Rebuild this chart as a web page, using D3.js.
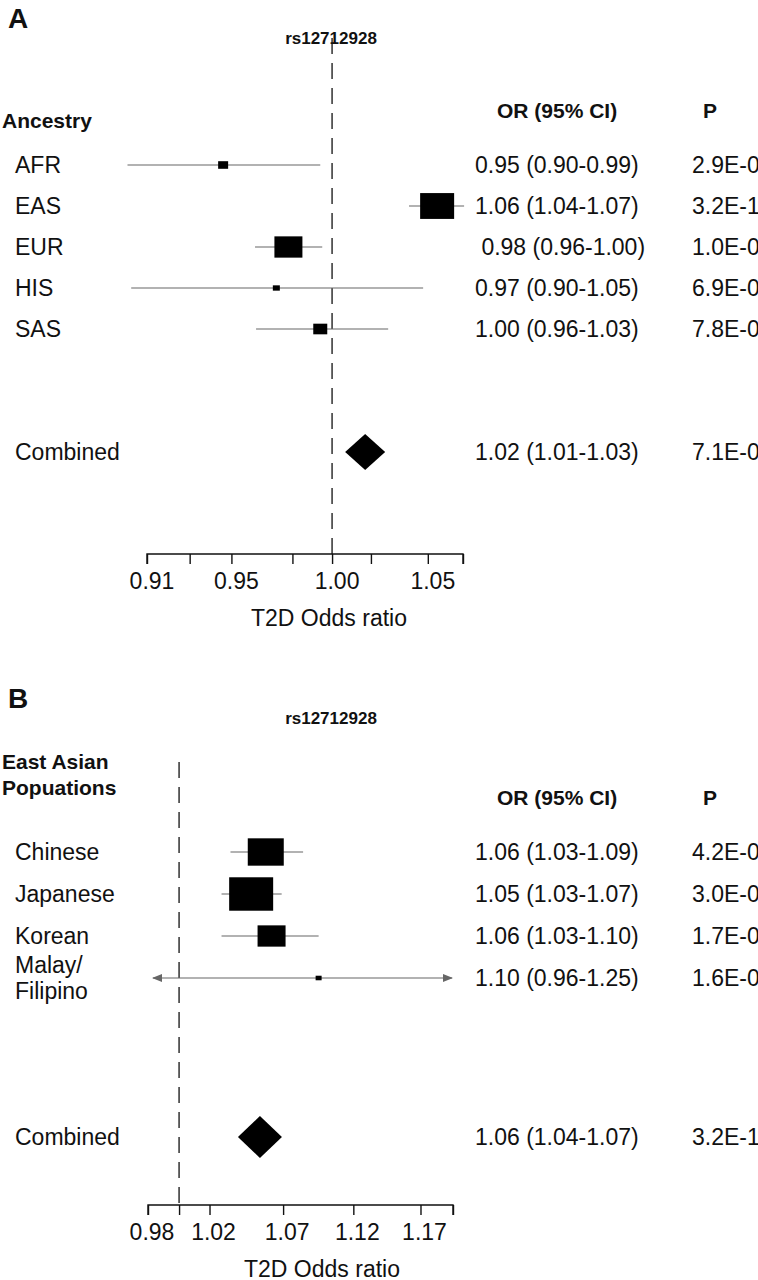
<!DOCTYPE html>
<html><head><meta charset="utf-8">
<script src="https://cdn.jsdelivr.net/npm/d3@7"></script>
<style>
body{margin:0;background:#fff;}
text{font-family:"Liberation Sans",Arial,sans-serif;fill:#111;}
</style></head>
<body><div id="chart"></div>
<script>
// Panel A data: ancestry groups
var ancLabels = ["AFR", "EAS", "EUR", "HIS", "SAS"];
var ancEst = [0.946, 1.055, 0.978, 0.972, 0.994];
var ancLo = [0.901, 1.040, 0.9615, 0.9027, 0.962];
var ancHi = [0.994, 1.0696, 0.995, 1.0475, 1.029];
var ancWeight = [10, 34, 28, 7, 14];
var ancText = ["0.95 (0.90-0.99)", "1.06 (1.04-1.07)", " 0.98 (0.96-1.00)", "0.97 (0.90-1.05)", "1.00 (0.96-1.03)"];
var ancP = ["2.9E-02", "3.2E-14", "1.0E-02", "6.9E-02", "7.8E-01"];
var ancComb = {est: 1.017, text: "1.02 (1.01-1.03)", p: "7.1E-04"};
var ticksA = [0.91, 0.93, 0.95, 0.98, 1.00, 1.02, 1.05, 1.069];
var labelsA = [0.91, 0.95, 1.00, 1.05];

// Panel B data: East Asian populations
var easLabels = [["Chinese"], ["Japanese"], ["Korean"], ["Malay/", "Filipino"]];
var easEst = [1.058, 1.048, 1.062, 1.095];
var easLo = [1.034, 1.028, 1.028, 0.96];
var easHi = [1.084, 1.069, 1.095, 1.25];
var easWeight = [36, 44, 28, 6];
var easText = ["1.06 (1.03-1.09)", "1.05 (1.03-1.07)", "1.06 (1.03-1.10)", "1.10 (0.96-1.25)"];
var easP = ["4.2E-06", "3.0E-06", "1.7E-04", "1.6E-01"];
var easComb = {est: 1.054, text: "1.06 (1.04-1.07)", p: "3.2E-14"};
var ticksB = [0.98, 1.00, 1.02, 1.07, 1.12, 1.17, 1.195];
var labelsB = [0.98, 1.02, 1.07, 1.12, 1.17];

var svg = d3.select("#chart").append("svg").attr("width", 758).attr("height", 1280);

svg.append("defs").append("marker").attr("id", "arr")
  .attr("viewBox", "0 0 10 10").attr("refX", 9).attr("refY", 5)
  .attr("markerWidth", 10).attr("markerHeight", 10).attr("orient", "auto-start-reverse")
  .attr("markerUnits", "userSpaceOnUse")
  .append("path").attr("d", "M0,1 L10,5 L0,9 Z").attr("fill", "#666");

function panel(o) {
  var x = d3.scaleLog().domain(o.domain).range(o.range);
  var g = svg.append("g");
  g.append("text").attr("x", 8).attr("y", o.top).attr("font-size", 28).attr("font-weight", "bold").text(o.letter);
  g.append("text").attr("x", 331).attr("y", o.top + 16).attr("text-anchor", "middle")
    .attr("font-size", 17).attr("font-weight", "bold").text("rs12712928");
  o.head.forEach(function (h, i) {
    g.append("text").attr("x", 2).attr("y", o.headY + i * 26).attr("font-size", 21).attr("font-weight", "bold").text(h);
  });
  g.append("text").attr("x", 497).attr("y", o.colY).attr("font-size", 21).attr("font-weight", "bold").text("OR (95% CI)");
  g.append("text").attr("x", 703).attr("y", o.colY).attr("font-size", 21).attr("font-weight", "bold").text("P");

  // reference line at OR = 1
  g.append("line").attr("x1", x(1)).attr("x2", x(1)).attr("y1", o.dashTop).attr("y2", o.axisY)
    .attr("stroke", "#111").attr("stroke-width", 1.3).attr("stroke-dasharray", "16,9");

  var rows = g.selectAll(".row").data(o.est).enter().append("g");
  rows.each(function (d, i) {
    var r = d3.select(this), y = o.rows[i];
    var lo = o.clip ? Math.max(o.lo[i], o.domain[0]) : o.lo[i];
    var hi = o.clip ? Math.min(o.hi[i], o.domain[1]) : o.hi[i];
    var ln = r.append("line").attr("x1", x(lo)).attr("x2", x(hi)).attr("y1", y).attr("y2", y)
      .attr("stroke", "#666").attr("stroke-width", 1.2);
    if (o.clip && o.lo[i] < o.domain[0]) { ln.attr("x1", x(lo) + 5).attr("marker-start", "url(#arr)"); }
    if (o.clip && o.hi[i] > o.domain[1]) { ln.attr("x2", x(hi) - 1).attr("marker-end", "url(#arr)"); }
    var w = o.weight[i], h = w * 0.76;
    r.append("rect").attr("x", x(d) - w / 2).attr("y", y - h / 2).attr("width", w).attr("height", h).attr("fill", "#000");
    var lab = o.labels[i];
    if (typeof lab === "string") lab = [lab];
    lab.forEach(function (t, k) {
      r.append("text").attr("x", 15).attr("y", y + 8 + (k - (lab.length - 1) / 2) * 26).attr("font-size", 23).text(t);
    });
    r.append("text").attr("x", 475).attr("y", y + 8).attr("font-size", 23).attr("xml:space", "preserve").text(o.text[i]);
    r.append("text").attr("x", 692).attr("y", y + 8).attr("font-size", 23).text(o.p[i]);
  });

  var cy = o.combY, cx = x(o.comb.est);
  g.append("path").attr("d", "M" + (cx - o.dia[0]) + "," + cy + "L" + cx + "," + (cy - o.dia[1]) + "L" + (cx + o.dia[0]) + "," + cy + "L" + cx + "," + (cy + o.dia[1]) + "Z")
    .attr("fill", "#000");
  g.append("text").attr("x", 15).attr("y", cy + 8).attr("font-size", 23).text("Combined");
  g.append("text").attr("x", 475).attr("y", cy + 8).attr("font-size", 23).text(o.comb.text);
  g.append("text").attr("x", 692).attr("y", cy + 8).attr("font-size", 23).text(o.comb.p);

  var ax = g.append("g").attr("transform", "translate(0," + o.axisY + ")")
    .call(d3.axisBottom(x).tickValues(o.ticks).tickSize(10).tickFormat(""));
  ax.select(".domain").attr("stroke", "#111").attr("stroke-width", 1.4).attr("d", "M" + o.range[0] + ",10V0H" + o.range[1] + "V10");
  ax.selectAll(".tick line").attr("stroke", "#111").attr("stroke-width", 1.4);
  g.selectAll(".tl").data(o.tickLabels).enter().append("text")
    .attr("x", function (d) { return x(d) + o.labShift; }).attr("y", o.axisY + 35)
    .attr("text-anchor", "middle").attr("font-size", 23).text(function (d) { return d.toFixed(2); });
  g.append("text").attr("x", o.titleX).attr("y", o.axisY + 72)
    .attr("text-anchor", "middle").attr("font-size", 23).text("T2D Odds ratio");
}

panel({
  letter: "A", top: 28, head: ["Ancestry"], headY: 128, colY: 118, clip: false,
  domain: [0.91, 1.069], range: [147, 463], dashTop: 38, axisY: 554,
  labels: ancLabels, est: ancEst, lo: ancLo, hi: ancHi, weight: ancWeight, text: ancText, p: ancP,
  rows: [165, 206, 247, 288, 329], comb: ancComb, combY: 452, dia: [20, 18],
  ticks: ticksA, tickLabels: labelsA, labShift: 5, titleX: 329
});

panel({
  letter: "B", top: 708, head: ["East Asian", "Popuations"], headY: 769, colY: 805, clip: true,
  domain: [0.98, 1.195], range: [148, 453], dashTop: 762, axisY: 1205,
  labels: easLabels, est: easEst, lo: easLo, hi: easHi, weight: easWeight, text: easText, p: easP,
  rows: [852, 894, 936, 978], comb: easComb, combY: 1137, dia: [22, 21],
  ticks: ticksB, tickLabels: labelsB, labShift: 4, titleX: 322
});
</script></body></html>
